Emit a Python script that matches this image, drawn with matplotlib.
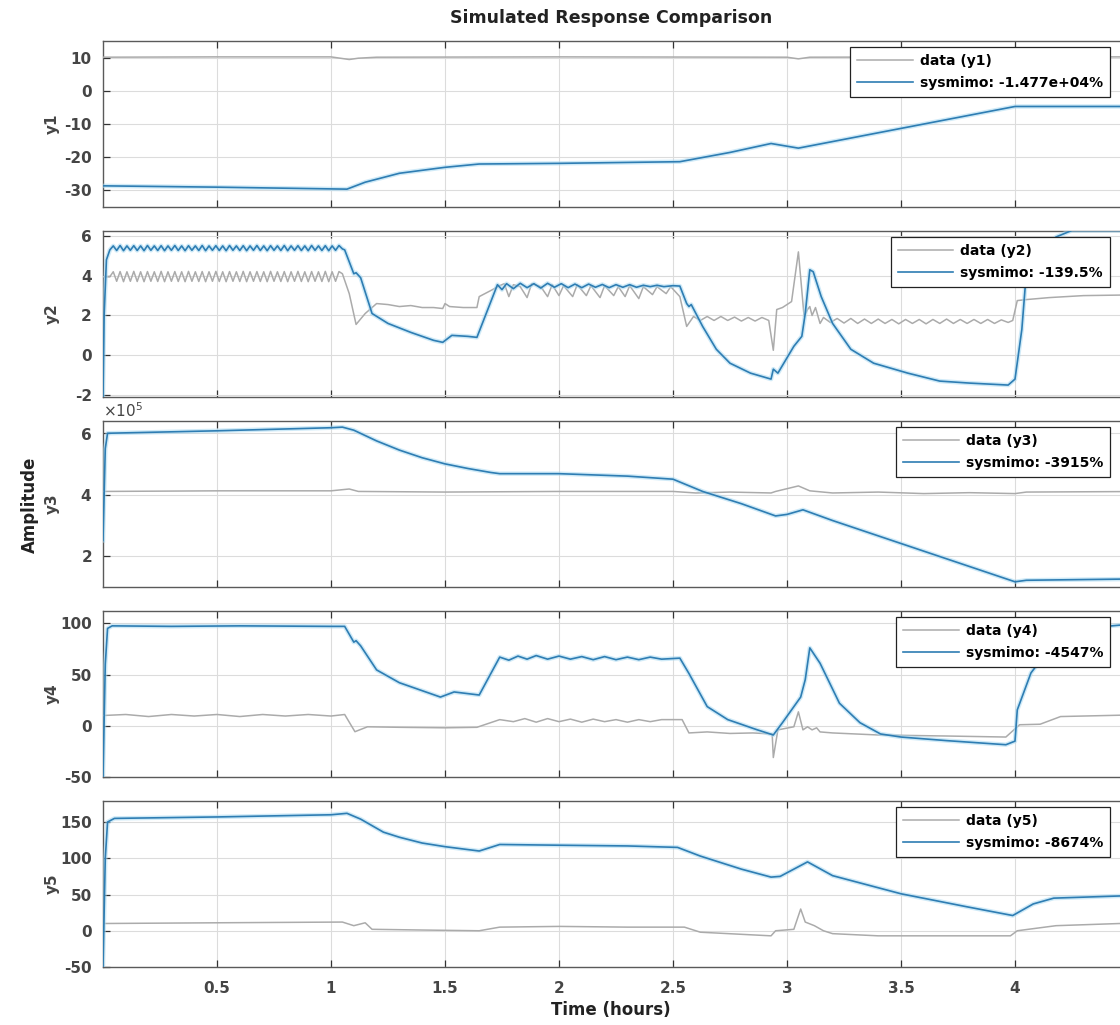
import numpy as np
import matplotlib
matplotlib.use('agg')
import matplotlib.pyplot as plt
from matplotlib.ticker import ScalarFormatter

plt.rcParams['axes.unicode_minus'] = False

# measured output (data) and simulated model response (sysmimo), time in hours
y1_data = [(0.0, 10.3), (0.5, 10.4), (1.0, 10.4), (1.08, 9.6), (1.12, 10.0), (1.2, 10.3),
           (2.0, 10.4), (3.0, 10.3), (3.05, 9.8), (3.1, 10.3), (4.0, 10.4), (4.6, 10.4)]
y1_sim = [(0.0, -28.6), (0.5, -29.0), (1.07, -29.6), (1.15, -27.5), (1.3, -24.8), (1.5, -23.0),
          (1.65, -22.0), (2.0, -21.8), (2.53, -21.3), (2.75, -18.5), (2.93, -15.8), (3.05, -17.2),
          (4.0, -4.6), (4.6, -4.6)]

# y2 has a strong ripple during the first hour
y2_data_ripple = [3.95, 4.20, 3.72, 4.21, 3.70, 4.20, 3.72, 4.22, 3.71, 4.20, 3.70, 4.21, 3.72,
                  4.20, 3.71, 4.22, 3.70, 4.20, 3.72, 4.21, 3.71, 4.20, 3.70, 4.22, 3.72, 4.20,
                  3.71, 4.21, 3.70, 4.20, 3.72, 4.22, 3.71, 4.20, 3.70, 4.21, 3.72, 4.20, 3.71,
                  4.22, 3.70, 4.20, 3.72, 4.21, 3.71, 4.20, 3.70, 4.22, 3.72, 4.20, 3.71, 4.21,
                  3.70, 4.20, 3.72, 4.22, 3.71, 4.20, 3.70, 4.21, 3.72, 4.20, 3.71, 4.22, 3.70,
                  4.20, 3.72, 4.21, 4.10]
y2_sim_ripple = [5.30, 5.50, 5.27, 5.52, 5.26, 5.50, 5.28, 5.51, 5.27, 5.50, 5.26, 5.52, 5.28,
                 5.50, 5.27, 5.51, 5.26, 5.50, 5.28, 5.52, 5.27, 5.50, 5.26, 5.51, 5.28, 5.50,
                 5.27, 5.52, 5.26, 5.50, 5.28, 5.51, 5.27, 5.50, 5.26, 5.52, 5.28, 5.50, 5.27,
                 5.51, 5.26, 5.50, 5.28, 5.52, 5.27, 5.50, 5.26, 5.51, 5.28, 5.50, 5.27, 5.52,
                 5.26, 5.50, 5.28, 5.51, 5.27, 5.50, 5.26, 5.52, 5.28, 5.50, 5.27, 5.51, 5.26,
                 5.50, 5.28, 5.52, 5.35]
y2_ripple_span = (0.03, 1.05)
y2_data = [(1.08, 3.1), (1.11, 1.55), (1.15, 2.1), (1.2, 2.6), (1.25, 2.55), (1.3, 2.45),
           (1.35, 2.5), (1.4, 2.4), (1.45, 2.4), (1.49, 2.35), (1.5, 2.6), (1.52, 2.45),
           (1.58, 2.4), (1.64, 2.4), (1.65, 2.95), (1.7, 3.25), (1.74, 3.5), (1.76, 3.6),
           (1.78, 2.95), (1.8, 3.55), (1.83, 3.45), (1.86, 2.9), (1.88, 3.6), (1.92, 3.45),
           (1.95, 2.95), (1.97, 3.55), (2.0, 3.0), (2.02, 3.5), (2.06, 2.95), (2.08, 3.55),
           (2.12, 3.0), (2.14, 3.5), (2.18, 2.9), (2.2, 3.5), (2.24, 3.0), (2.26, 3.45),
           (2.29, 2.95), (2.31, 3.5), (2.35, 2.85), (2.37, 3.45), (2.41, 3.05), (2.43, 3.45),
           (2.47, 3.1), (2.49, 3.45), (2.53, 2.95), (2.56, 1.45), (2.59, 1.95), (2.62, 1.75),
           (2.65, 1.95), (2.68, 1.75), (2.71, 1.95), (2.74, 1.75), (2.77, 1.92), (2.8, 1.72),
           (2.83, 1.9), (2.86, 1.72), (2.89, 1.9), (2.92, 1.75), (2.94, 0.25), (2.955, 2.3),
           (2.98, 2.4), (3.02, 2.7), (3.05, 5.2), (3.075, 1.95), (3.09, 2.3), (3.1, 2.45),
           (3.11, 2.0), (3.125, 2.4), (3.145, 1.6), (3.16, 1.9), (3.19, 1.65), (3.22, 1.85),
           (3.25, 1.62), (3.28, 1.85), (3.31, 1.6), (3.34, 1.82), (3.37, 1.6), (3.4, 1.82),
           (3.43, 1.6), (3.46, 1.8), (3.49, 1.58), (3.52, 1.8), (3.55, 1.6), (3.58, 1.8),
           (3.61, 1.58), (3.64, 1.8), (3.67, 1.6), (3.7, 1.82), (3.73, 1.6), (3.76, 1.8),
           (3.79, 1.6), (3.82, 1.8), (3.85, 1.6), (3.88, 1.8), (3.91, 1.6), (3.94, 1.78),
           (3.97, 1.65), (3.99, 1.75), (4.01, 2.75), (4.05, 2.8), (4.15, 2.9), (4.3, 3.0),
           (4.6, 3.05)]
y2_data_start = [(0.0, 3.95)]
y2_sim_start = [(0.0, -2.1), (0.005, 2.0), (0.015, 4.8)]
y2_sim = [(1.06, 5.3), (1.1, 4.1), (1.11, 4.15), (1.13, 3.9), (1.18, 2.1), (1.25, 1.6),
          (1.35, 1.15), (1.45, 0.75), (1.49, 0.65), (1.53, 1.0), (1.6, 0.95), (1.64, 0.9),
          (1.73, 3.55), (1.75, 3.3), (1.77, 3.6), (1.8, 3.35), (1.83, 3.62), (1.86, 3.4),
          (1.89, 3.6), (1.92, 3.38), (1.95, 3.62), (1.98, 3.42), (2.01, 3.6), (2.04, 3.4),
          (2.07, 3.58), (2.1, 3.4), (2.13, 3.58), (2.16, 3.42), (2.19, 3.56), (2.22, 3.4),
          (2.25, 3.55), (2.28, 3.42), (2.31, 3.55), (2.34, 3.42), (2.37, 3.52), (2.4, 3.45),
          (2.43, 3.52), (2.46, 3.45), (2.5, 3.5), (2.53, 3.48), (2.56, 2.6), (2.57, 2.45),
          (2.58, 2.55), (2.63, 1.45), (2.69, 0.3), (2.75, -0.4), (2.84, -0.9), (2.93, -1.2),
          (2.94, -0.7), (2.96, -0.9), (3.03, 0.45), (3.065, 0.95), (3.08, 2.1), (3.1, 4.3),
          (3.115, 4.2), (3.15, 2.95), (3.2, 1.6), (3.28, 0.3), (3.38, -0.4), (3.53, -0.9),
          (3.67, -1.3), (3.8, -1.4), (3.97, -1.5), (4.0, -1.2), (4.03, 1.3), (4.05, 4.2),
          (4.12, 5.2), (4.18, 5.95), (4.25, 6.28), (4.6, 6.28)]

y3_data = [(0.0, 4.1e5), (0.5, 4.12e5), (1.0, 4.12e5), (1.08, 4.18e5), (1.12, 4.1e5),
           (1.5, 4.08e5), (2.0, 4.1e5), (2.5, 4.1e5), (2.6, 4.05e5), (2.75, 4.08e5),
           (2.93, 4.05e5), (2.95, 4.1e5), (3.05, 4.28e5), (3.1, 4.12e5), (3.2, 4.05e5),
           (3.4, 4.08e5), (3.6, 4.03e5), (3.8, 4.06e5), (4.0, 4.03e5), (4.05, 4.08e5),
           (4.6, 4.1e5)]
y3_sim = [(0.0, 2.5e5), (0.01, 5.5e5), (0.02, 6.0e5), (0.5, 6.08e5), (1.0, 6.18e5),
          (1.05, 6.2e5), (1.1, 6.1e5), (1.2, 5.75e5), (1.3, 5.45e5), (1.4, 5.2e5),
          (1.5, 5.0e5), (1.6, 4.85e5), (1.7, 4.72e5), (1.74, 4.68e5), (2.0, 4.68e5),
          (2.3, 4.6e5), (2.5, 4.5e5), (2.63, 4.1e5), (2.8, 3.7e5), (2.95, 3.3e5),
          (3.0, 3.35e5), (3.07, 3.5e5), (3.2, 3.15e5), (4.0, 1.15e5), (4.05, 1.2e5),
          (4.6, 1.25e5)]

y4_data = [(0.0, 10), (0.1, 11), (0.2, 9), (0.3, 11), (0.4, 9.5), (0.5, 11), (0.6, 9), (0.7, 11),
           (0.8, 9.5), (0.9, 11), (1.0, 9.5), (1.06, 11), (1.105, -5.8), (1.16, -1), (1.3, -1.5),
           (1.5, -2), (1.64, -1.5), (1.74, 6), (1.8, 4), (1.85, 7), (1.9, 3.5), (1.95, 7), (2.0, 4),
           (2.05, 6.5), (2.1, 3.5), (2.15, 6.5), (2.2, 4), (2.25, 6), (2.3, 3.5), (2.35, 6),
           (2.4, 4), (2.45, 6), (2.54, 6), (2.57, -7), (2.65, -6), (2.75, -7.5), (2.85, -7),
           (2.935, -8), (2.94, -31), (2.96, -4), (3.03, -1), (3.05, 13.6), (3.07, -4), (3.09, -1),
           (3.11, -4), (3.13, -2), (3.145, -6), (3.2, -7), (3.4, -9), (3.7, -10), (3.96, -11),
           (4.02, 1), (4.11, 1.5), (4.2, 9), (4.6, 11)]
y4_sim = [(0.0, -50), (0.01, 60), (0.02, 95), (0.04, 97.5), (0.3, 97), (0.6, 97.5), (1.0, 97),
          (1.06, 97), (1.1, 81.6), (1.11, 83), (1.13, 78), (1.2, 54.5), (1.3, 42), (1.48, 28),
          (1.54, 33), (1.65, 30), (1.74, 67), (1.78, 64), (1.82, 68), (1.86, 65), (1.9, 68.5),
          (1.95, 65), (2.0, 68), (2.05, 65), (2.1, 67.5), (2.15, 64.5), (2.2, 67.5), (2.25, 64.5),
          (2.3, 67), (2.35, 64.5), (2.4, 67), (2.45, 65), (2.53, 66), (2.57, 51), (2.65, 18.7),
          (2.74, 6), (2.87, -4), (2.94, -9), (2.98, 3), (3.06, 28), (3.08, 45), (3.1, 76),
          (3.145, 61), (3.23, 22), (3.32, 3), (3.41, -8), (3.5, -11), (3.7, -14.5), (3.96, -18.5),
          (4.0, -15), (4.01, 15.5), (4.07, 51.6), (4.15, 75), (4.25, 90), (4.35, 96), (4.6, 101)]

y5_data = [(0.0, 10), (0.5, 11), (1.05, 12), (1.1, 7), (1.15, 11), (1.18, 2), (1.4, 1),
           (1.65, 0), (1.74, 5), (2.0, 6), (2.3, 5), (2.55, 5), (2.62, -2), (2.93, -7), (2.95, 0),
           (3.03, 2), (3.06, 30), (3.08, 12), (3.12, 7), (3.16, 0), (3.2, -4), (3.4, -7),
           (3.98, -7), (4.01, 0), (4.18, 7), (4.46, 10), (4.6, 10)]
y5_sim = [(0.0, -50), (0.01, 100), (0.02, 150), (0.05, 155), (0.5, 157), (1.0, 160),
          (1.07, 162), (1.13, 154), (1.23, 136), (1.3, 129), (1.4, 121), (1.5, 116), (1.65, 110),
          (1.74, 119), (2.0, 118), (2.3, 117), (2.52, 115), (2.62, 103), (2.8, 85), (2.93, 74),
          (2.97, 75), (3.09, 95), (3.2, 76), (3.5, 51), (3.79, 33), (3.99, 21), (4.08, 37),
          (4.17, 45), (4.46, 48), (4.6, 48)]

fit_labels = ['sysmimo: -1.477e+04%', 'sysmimo: -139.5%', 'sysmimo: -3915%',
              'sysmimo: -4547%', 'sysmimo: -8674%']
y_names = ['y1', 'y2', 'y3', 'y4', 'y5']
y_limits = [(-35, 15.2), (-2.1, 6.25), (0.98e5, 6.4e5), (-50, 112), (-50, 179)]
y_ticks = [[-30, -20, -10, 0, 10], [-2, 0, 2, 4, 6], [2e5, 4e5, 6e5],
           [-50, 0, 50, 100], [-50, 0, 50, 100, 150]]
x_ticks = [0.5, 1, 1.5, 2, 2.5, 3, 3.5, 4]
x_tick_labels = ['0.5', '1', '1.5', '2', '2.5', '3', '3.5', '4']

DATA_COLOR = '#ababab'
SIM_COLOR = '#2e7db3'
HALO_COLOR = '#a9d9f2'
TEXT_COLOR = '#454545'


def as_xy(points):
    arr = np.array(points, dtype=float)
    return arr[:, 0], arr[:, 1]


def with_ripple(start, ripple, span, rest):
    t0, v0 = as_xy(start)
    t1 = np.linspace(span[0], span[1], len(ripple))
    t2, v2 = as_xy(rest)
    return np.concatenate([t0, t1, t2]), np.concatenate([v0, ripple, v2])


series = [
    (as_xy(y1_data), as_xy(y1_sim)),
    (with_ripple(y2_data_start, y2_data_ripple, y2_ripple_span, y2_data),
     with_ripple(y2_sim_start, y2_sim_ripple, y2_ripple_span, y2_sim)),
    (as_xy(y3_data), as_xy(y3_sim)),
    (as_xy(y4_data), as_xy(y4_sim)),
    (as_xy(y5_data), as_xy(y5_sim)),
]

W, H = 1120, 1025
fig = plt.figure(figsize=(W / 100, H / 100), dpi=100)
fig.patch.set_facecolor('white')

axes_tops = [41, 231, 421, 611, 801]
ax_h = 166
x_max = 4.6
px_per_hour = 228
ax_w_px = x_max * px_per_hour

for i, (top, ((td, vd), (ts, vs))) in enumerate(zip(axes_tops, series)):
    ax = fig.add_axes([103 / W, 1 - (top + ax_h) / H, ax_w_px / W, ax_h / H])
    ax.plot(td, vd, color=DATA_COLOR, lw=1.1, label=f'data ({y_names[i]})', zorder=3)
    ax.plot(ts, vs, color=HALO_COLOR, lw=3.2, alpha=0.55, zorder=3.5)
    ax.plot(ts, vs, color=SIM_COLOR, lw=1.2, label=fit_labels[i], zorder=4)

    ax.set_xlim(0, x_max)
    ax.set_ylim(*y_limits[i])
    ax.set_yticks(y_ticks[i])
    ax.set_xticks(x_ticks)
    if i == 4:
        ax.set_xticklabels(x_tick_labels)
    else:
        ax.set_xticklabels([])

    ax.grid(True, color='#dcdcdc', lw=0.8)
    ax.set_axisbelow(True)
    ax.tick_params(direction='in', length=5, width=0.9, color='#333333',
                   labelsize=11, labelcolor=TEXT_COLOR, top=True, right=False)
    ax.tick_params(axis='y', pad=8)
    ax.tick_params(axis='x', pad=10)
    for lab in ax.get_xticklabels() + ax.get_yticklabels():
        lab.set_fontweight('bold')
    for spine in ax.spines.values():
        spine.set_color('#5a5a5a')
        spine.set_linewidth(1.0)
    ax.spines['right'].set_visible(False)

    if i == 2:
        fmt = ScalarFormatter(useMathText=True)
        fmt.set_powerlimits((0, 0))
        ax.yaxis.set_major_formatter(fmt)
        ax.yaxis.get_offset_text().set_fontsize(11)
        ax.yaxis.get_offset_text().set_color(TEXT_COLOR)

    ax.set_ylabel(y_names[i], fontsize=11, fontweight='bold', color=TEXT_COLOR)
    ax.yaxis.set_label_coords(-43 / ax_w_px, 0.5)

    leg = ax.legend(loc='upper right', bbox_to_anchor=(1110 / W, 1 - (top + 6) / H),
                    bbox_transform=fig.transFigure, borderaxespad=0, fancybox=False,
                    framealpha=1, edgecolor='#222222', handlelength=4.0,
                    handletextpad=0.5, labelspacing=0.6, borderpad=0.5,
                    prop={'size': 10, 'weight': 'bold'})
    leg.get_frame().set_linewidth(0.9)
    leg.set_zorder(10)

fig.text(611 / W, 1 - 18 / H, 'Simulated Response Comparison', ha='center', va='center',
         fontsize=12.5, fontweight='bold', color='#222222')
fig.text(611 / W, 1 - 1010 / H, 'Time (hours)', ha='center', va='center',
         fontsize=12, fontweight='bold', color='#222222')
fig.text(30 / W, 1 - 505 / H, 'Amplitude', ha='center', va='center', rotation=90,
         fontsize=12, fontweight='bold', color='#222222')

fig.savefig('out.png', dpi=100)
